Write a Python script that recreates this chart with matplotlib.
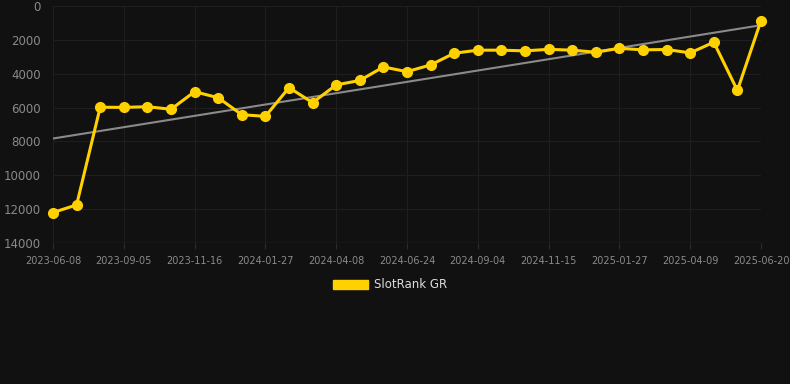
import matplotlib.pyplot as plt
import numpy as np
from matplotlib.patches import Patch

# rank values, one per period (equally spaced categories)
ranks = [12200, 11750, 5980, 5990, 5950, 6100, 5060, 5420, 6420, 6520,
         4820, 5710, 4660, 4400, 3600, 3880, 3480, 2790, 2610, 2610,
         2650, 2560, 2610, 2730, 2500, 2590, 2570, 2770, 2140, 4990, 860]

tick_pos = [0, 3, 6, 9, 12, 15, 18, 21, 24, 27, 30]
tick_labels = ['2023-06-08', '2023-09-05', '2023-11-16', '2024-01-27',
               '2024-04-08', '2024-06-24', '2024-09-04', '2024-11-15',
               '2025-01-27', '2025-04-09', '2025-06-20']
y_ticks = [0, 2000, 4000, 6000, 8000, 10000, 12000, 14000]

bg = '#111111'
yellow = '#FFD100'

x = np.arange(len(ranks))
y = np.array(ranks)

# linear trend
k, b = np.polyfit(x, y, 1)
trend = k * x + b

fig = plt.figure(figsize=(7.9, 3.84), dpi=100, facecolor=bg)
ax = fig.add_axes([53 / 790, 1 - 243 / 384, (761 - 53) / 790, (243 - 6) / 384])
ax.set_facecolor(bg)

ax.plot(x, trend, color='#8a8a8a', linewidth=1.5, zorder=2)
ax.plot(x, y, color=yellow, linewidth=2.2, marker='o', markersize=7,
        zorder=3, clip_on=False)

ax.set_xlim(0, len(ranks) - 1)
ax.set_ylim(14000, 0)
ax.set_yticks(y_ticks)
ax.set_xticks(tick_pos)
ax.set_xticklabels(tick_labels)

ax.grid(True, color='#1e1e1e', linewidth=0.8)
ax.set_axisbelow(True)
for s in ax.spines.values():
    s.set_visible(False)
ax.axhline(14000, color='#2c2c2c', linewidth=1, zorder=1)

ax.tick_params(axis='y', colors='#8a8a8a', labelsize=8.5, length=0, pad=9)
ax.tick_params(axis='x', colors='#2c2c2c', labelcolor='#8a8a8a', labelsize=7,
               length=4, pad=5)

handle = Patch(facecolor=yellow, edgecolor=yellow)
fig.legend([handle], ['SlotRank GR'], loc='center', bbox_to_anchor=(390 / 790, 1 - 285 / 384),
           frameon=False, fontsize=8.5, labelcolor='#dddddd',
           handlelength=3.0, handleheight=0.9, handletextpad=0.5)

fig.savefig('out.png', dpi=100, facecolor=bg)
